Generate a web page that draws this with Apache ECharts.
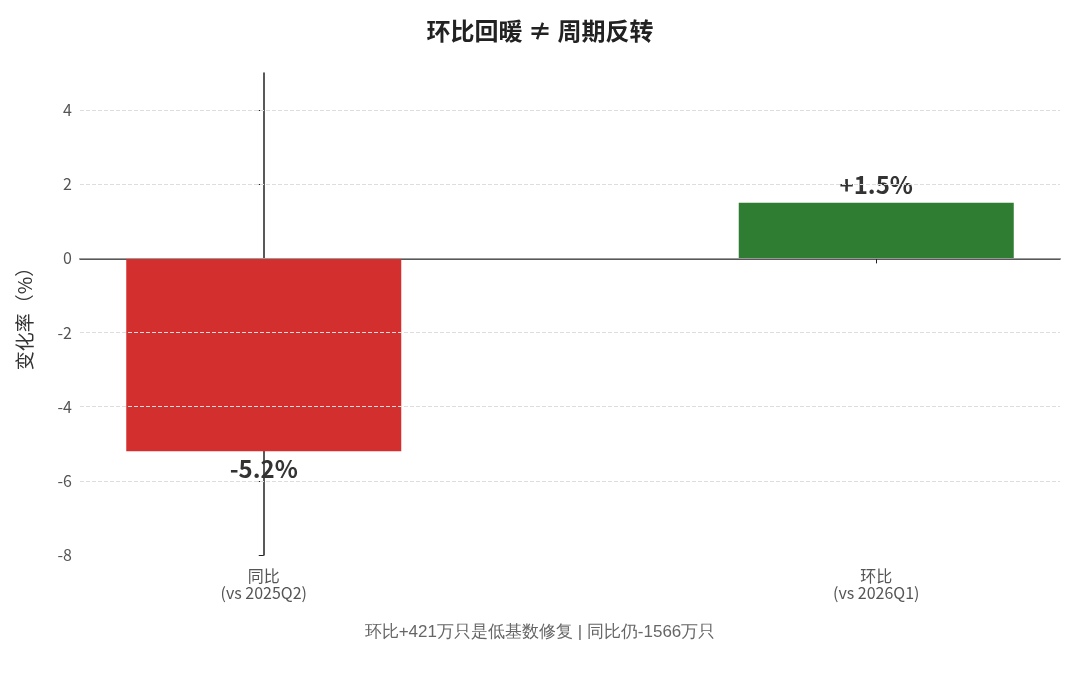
<!DOCTYPE html>
<html><head><meta charset="utf-8">
<script src="https://cdn.jsdelivr.net/npm/echarts@6/dist/echarts.min.js"></script>
<style>html,body{margin:0;padding:0;background:#fff}#c{width:1080px;height:675px}</style>
</head><body><div id="c"></div>
<script>
const categories = ['同比\n(vs 2025Q2)', '环比\n(vs 2026Q1)'];
const values = [-5.2, 1.5];
const labels = ['-5.2%', '+1.5%'];
const colors = ['#d32f2f', '#2e7d32'];
const yTicks = [-8, -6, -4, -2, 0, 2, 4];
const gridVals = [-6, -4, -2, 2, 4];
const font = '"Noto Sans CJK SC","Noto Sans",sans-serif';
const chart = echarts.init(document.getElementById('c'));
chart.setOption({
  animation: false,
  textStyle: {fontFamily: font},
  title: {text: '环比回暖 ≠ 周期反转', left: 'center', top: 14,
    textStyle: {fontSize: 24, fontWeight: 'bold', color: '#222', fontFamily: font}},
  graphic: [{type: 'text', left: 'center', top: 624,
    style: {text: '环比+421万只是低基数修复 | 同比仍-1566万只', fontSize: 17, fill: '#666', font: '17px ' + font}}],
  grid: {left: 80, right: 20, top: 73, bottom: 120},
  xAxis: {type: 'value', min: -0.3, max: 1.3,
    splitLine: {show: false},
    axisLine: {lineStyle: {color: '#222', width: 1.5}},
    axisTick: {show: true, customValues: [0, 1], lineStyle: {color: '#222'}},
    axisLabel: {customValues: [0, 1], formatter: v => categories[Math.round(v)],
      color: '#555', fontSize: 16, lineHeight: 17, margin: 12}},
  yAxis: {type: 'value', min: -8, max: 5,
    name: '变化率（%）', nameLocation: 'middle', nameGap: 46, nameRotate: 90,
    nameTextStyle: {fontSize: 19, color: '#333'},
    splitLine: {show: false},
    axisLine: {show: true, lineStyle: {color: '#222', width: 1.5}},
    axisTick: {show: true, customValues: yTicks, lineStyle: {color: '#222'}},
    axisLabel: {customValues: yTicks, color: '#555', fontSize: 16}},
  series: [{
    type: 'bar', barWidth: 275,
    data: values.map((v, i) => ({value: [i, v], itemStyle: {color: colors[i]},
      label: {show: true, position: v < 0 ? 'bottom' : 'top', formatter: labels[i],
        fontSize: 24, fontWeight: 'bold', color: '#333', distance: 6}})),
    markLine: {symbol: 'none', silent: true, label: {show: false},
      data: gridVals.map(v => ({yAxis: v, lineStyle: {type: 'dashed', color: '#ddd', width: 1}}))
        .concat([{yAxis: 0, lineStyle: {type: 'solid', color: '#999', width: 1.2}}])}
  }]
});
</script></body></html>
